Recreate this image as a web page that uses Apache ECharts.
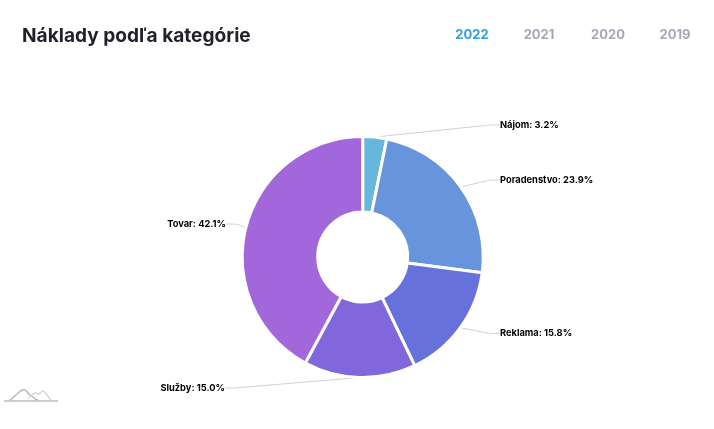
<!DOCTYPE html>
<html><head><meta charset="utf-8">
<style>html,body{margin:0;padding:0;background:#fff}#c{width:714px;height:429px}</style>
<script src="https://cdn.jsdelivr.net/npm/echarts@6/dist/echarts.min.js"></script>
</head><body><div id="c"></div>
<script>
const categories = ["Nájom","Poradenstvo","Reklama","Služby","Tovar"];
const values = [3.2,23.9,15.8,15.0,42.1];
const colors = ["#67b7dc","#6794dc","#6771dc","#8067dc","#a367dc"];
const years = ["2022","2021","2020","2019"];
const yearX = [472,539,608,675];
const labelSpots = [[500,125,'left'],[500,180,'left'],[500,333.5,'left'],[225,388,'right'],[226,224,'right']];
const chart = echarts.init(document.getElementById('c'),null,{renderer:'canvas'});
const font = 'Inter, "Noto Sans", sans-serif';
chart.setOption({
  animation:false,
  title:[{text:"Náklady podľa kategórie",left:22,top:27,padding:0,textStyle:{fontFamily:font,fontSize:19.1,fontWeight:700,color:'#1f2229'}}],
  graphic:[
    ...years.map((y,i)=>({type:'text',x:yearX[i],y:35.5,style:{text:y,fontFamily:font,fontSize:13,fontWeight:700,fill:i===0?'#2f9fdc':'#a5a8b8',align:'center',verticalAlign:'middle'}})),
    {type:'line',shape:{x1:4,y1:401,x2:58,y2:401},style:{stroke:'#bcbcbc',lineWidth:1.5}},
    {type:'polyline',shape:{smooth:0.35,points:[[10,400.5],[17,394],[24,389.5],[30,395],[38,400.5]]},style:{stroke:'#b8b8b8',lineWidth:1.5,fill:null}},
    {type:'polyline',shape:{smooth:0.25,points:[[28,398],[33,394],[36,393],[39,394],[43,391],[47,395],[51,400.5]]},style:{stroke:'#d6d6d6',lineWidth:1.5,fill:null}}
  ],
  series:[{
    type:'pie',
    center:[362.7,257],
    radius:[45,120.5],
    startAngle:90,
    clockwise:true,
    color:colors,
    itemStyle:{borderColor:'#fff',borderWidth:3},
    silent:true,
    data:categories.map((n,i)=>({name:n,value:values[i]})),
    label:{formatter:p=>p.name+': '+p.value.toFixed(1)+'%',fontFamily:font,fontSize:9.3,fontWeight:700,color:'#000',alignTo:'none'},
    labelLine:{show:true,length:20,length2:10,smooth:0.2,lineStyle:{color:'#cfcfcf',width:1}},
    labelLayout:(p)=>{const s=labelSpots[p.dataIndex];return {x:s[0],y:s[1],align:s[2],verticalAlign:'middle'};}
  }]
});
</script></body></html>
